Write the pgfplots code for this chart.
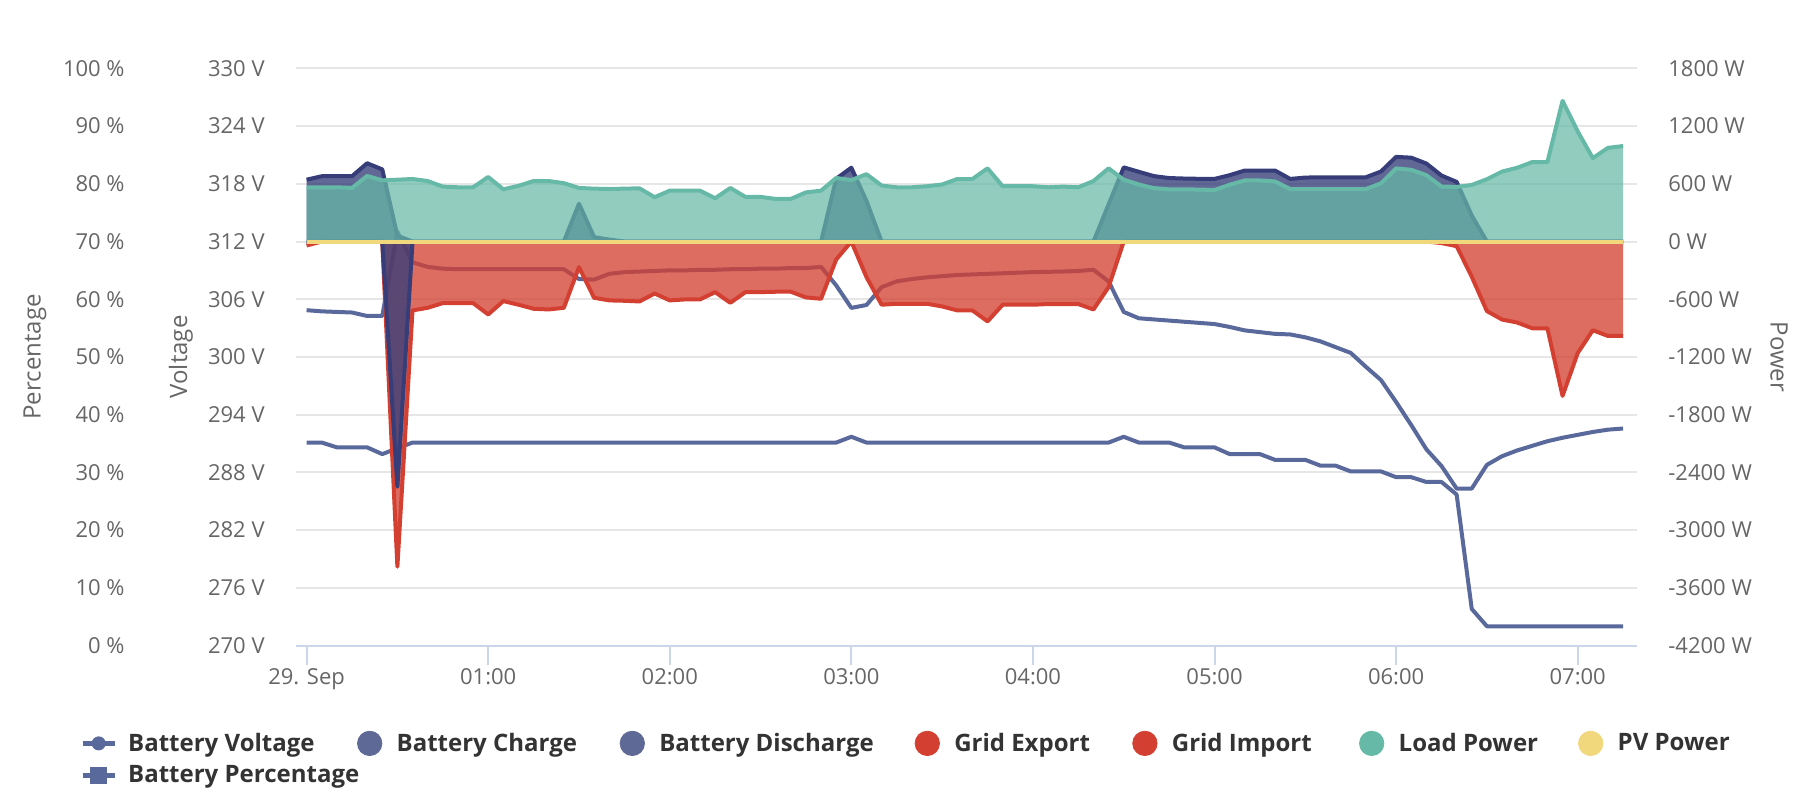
\documentclass[border=0pt]{standalone}
\usepackage{pgfplots}
\pgfplotsset{compat=1.18}
\usepackage{pgfplotstable}
\usepackage{fontspec}
\setmainfont{Open Sans}
\definecolor{lineblue}{HTML}{5A699B}
\definecolor{legblue}{HTML}{5F6996}
\definecolor{darkblue}{HTML}{363D78}
\definecolor{redc}{HTML}{D34032}
\definecolor{tealc}{HTML}{66B9A7}
\definecolor{yellowc}{HTML}{F2D87C}
\definecolor{gridc}{HTML}{E6E6E6}
\definecolor{axisc}{HTML}{CCD6EB}
\definecolor{tickc}{HTML}{666666}
\definecolor{legc}{HTML}{333333}

\pgfplotstableread{
t load dis chg imp pct volt
0 564 643 0 -41 58.1 291.1
5 564 679 0 0 57.9 291.1
10 564 679 0 0 57.8 290.6
15 557 679 0 0 57.7 290.6
20 682 814 0 0 57.1 290.6
25 636 750 0 0 57.1 289.9
30 643 60 -2550 -3380 71.7 290.5
35 650 0 0 -716 66.4 291.1
40 629 0 0 -689 65.6 291.1
45 571 0 0 -640 65.3 291.1
50 564 0 0 -640 65.2 291.1
55 564 0 0 -640 65.2 291.1
60 671 0 0 -758 65.2 291.1
65 543 0 0 -619 65.2 291.1
70 579 0 0 -657 65.2 291.1
75 629 0 0 -699 65.2 291.1
80 629 0 0 -706 65.2 291.1
85 607 0 0 -689 65.2 291.1
90 557 393 0 -266 63.5 291.1
95 550 46 0 -585 63.4 291.1
100 546 20 0 -612 64.4 291.1
105 550 0 0 -616 64.7 291.1
110 553 0 0 -623 64.8 291.1
115 461 0 0 -540 64.9 291.1
120 529 0 0 -612 65.0 291.1
125 529 0 0 -602 65.0 291.1
130 529 0 0 -602 65.1 291.1
135 450 0 0 -526 65.1 291.1
140 557 0 0 -637 65.2 291.1
145 464 0 0 -526 65.2 291.1
150 464 0 0 -526 65.3 291.1
155 443 0 0 -522 65.3 291.1
160 443 0 0 -522 65.4 291.1
165 511 0 0 -581 65.4 291.1
170 529 0 0 -595 65.6 291.1
175 661 653 0 -186 62.4 291.1
180 639 768 0 0 58.5 291.7
185 700 421 0 -370 59.0 291.1
190 582 0 0 -657 62.1 291.1
195 564 0 0 -647 63.1 291.1
200 564 0 0 -647 63.5 291.1
205 575 0 0 -647 63.8 291.1
210 593 0 0 -675 64.0 291.1
215 650 0 0 -716 64.2 291.1
220 650 0 0 -716 64.3 291.1
225 761 0 0 -830 64.4 291.1
230 575 0 0 -657 64.5 291.1
235 575 0 0 -657 64.6 291.1
240 575 0 0 -657 64.7 291.1
245 564 0 0 -650 64.75 291.1
250 571 0 0 -650 64.8 291.1
255 564 0 0 -650 64.9 291.1
260 629 0 0 -706 65.1 291.1
265 761 385 0 -474 63.1 291.1
270 643 771 0 0 57.8 291.7
275 593 725 0 0 56.7 291.1
280 555 680 0 0 56.5 291.1
285 543 660 0 0 56.3 291.1
290 543 655 0 0 56.1 290.6
295 540 652 0 0 55.9 290.6
300 536 651 0 0 55.7 290.6
305 590 690 0 0 55.2 289.9
310 635 738 0 0 54.6 289.9
315 635 738 0 0 54.3 289.9
320 625 738 0 0 54.0 289.3
325 546 651 0 0 53.9 289.3
330 546 665 0 0 53.4 289.3
335 546 668 0 0 52.7 288.7
340 546 668 0 0 51.7 288.7
345 546 668 0 0 50.7 288.1
350 546 668 0 0 48.3 288.1
355 605 728 0 0 46.0 288.1
360 760 880 0 0 42.2 287.5
365 746 872 0 0 38.2 287.5
370 690 811 0 0 34.0 287.0
375 572 686 0 -16 31.1 287.0
380 568 620 0 -48 27.2 285.7
385 588 270 0 -366 27.2 273.8
390 648 0 0 -723 31.3 272.0
395 727 0 0 -811 32.8 272.0
400 767 0 0 -842 33.8 272.0
405 826 0 0 -902 34.6 272.0
410 826 0 0 -902 35.4 272.0
415 1463 0 0 -1605 36.0 272.0
420 1145 0 0 -1160 36.5 272.0
425 867 0 0 -922 37.0 272.0
430 974 0 0 -982 37.4 272.0
435 993 0 0 -982 37.6 272.0
}\data

\pgfplotsset{
  base/.style={
    scale only axis, width=670.5pt, height=288.55pt,
    at={(148pt,82.25pt)}, anchor=south west,
    xmin=-3.5, xmax=439.6,
    tick label style={font=\fontsize{11}{13}\selectfont, text=tickc},
    label style={font=\fontsize{12}{14}\selectfont, text=tickc},
  },
}

\begin{document}
\begin{tikzpicture}
\path[use as bounding box] (0,0) rectangle (908pt,405pt);

% ---------- percentage axis (with grid and x axis)
\begin{axis}[base,
  ymin=0, ymax=100, ytick={0,10,20,30,40,50,60,70,80,90,100},
  yticklabels={0 \%,10 \%,20 \%,30 \%,40 \%,50 \%,60 \%,70 \%,80 \%,90 \%,100 \%},
  axis x line*=bottom, axis y line*=left,
  x axis line style={draw=axisc, line width=1pt, -},
  y axis line style={draw=none},
  xtick={0,60,120,180,240,300,360,420},
  xticklabels={29. Sep,01:00,02:00,03:00,04:00,05:00,06:00,07:00},
  xtick style={draw=axisc, line width=1pt},
  ytick style={draw=none},
  major tick length=9.5pt, tick align=outside,
  ymajorgrids, grid style={draw=gridc, line width=1pt},
  xticklabel style={anchor=north, inner sep=0pt, yshift=-1.8pt},
  yticklabel style={anchor=east, inner sep=0pt, xshift=-76pt},
  ylabel={Percentage},
  ylabel style={at={(axis description cs:-0.19463,0.5)}, anchor=center},
]
\addplot[lineblue, line width=2pt, line join=round] table[x=t,y=pct]{\data};
\end{axis}

% ---------- voltage axis
\begin{axis}[base,
  ymin=270, ymax=330, ytick={270,276,282,288,294,300,306,312,318,324,330},
  yticklabels={270 V,276 V,282 V,288 V,294 V,300 V,306 V,312 V,318 V,324 V,330 V},
  hide x axis, axis y line*=left,
  y axis line style={draw=none}, ytick style={draw=none},
  yticklabel style={anchor=east, inner sep=0pt, xshift=-15.5pt},
  ylabel={Voltage},
  ylabel style={at={(axis description cs:-0.08576,0.5)}, anchor=center},
]
\addplot[lineblue, line width=2pt, line join=round] table[x=t,y=volt]{\data};
\end{axis}

% ---------- power axis
\begin{axis}[base,
  ymin=-4200, ymax=1800,
  ytick={-4200,-3600,-3000,-2400,-1800,-1200,-600,0,600,1200,1800},
  yticklabels={-4200 W,-3600 W,-3000 W,-2400 W,-1800 W,-1200 W,-600 W,0 W,600 W,1200 W,1800 W},
  hide x axis, axis y line*=right,
  y axis line style={draw=none}, ytick style={draw=none},
  yticklabel style={anchor=west, inner sep=0pt, xshift=15.5pt},
  ylabel={Power},
  ylabel style={at={(axis description cs:1.10589,0.5)}, anchor=center, rotate=180},
  legend columns=7,
  legend cell align=left,
  legend style={draw=none, fill=none, inner sep=0pt, outer sep=0pt,
    at={(axis description cs:-0.16092,-0.14174)}, anchor=north west,
    column sep=0pt, row sep=0pt,
    font=\fontsize{12}{14}\selectfont\bfseries, text=legc,
    nodes={inner sep=0pt, outer sep=0pt},
    /tikz/every even column/.style={column sep=0pt},
    /tikz/every odd column/.style={column sep=0pt},
    cells={anchor=west}},
]
% Grid Import (red)
\addplot[draw=none, fill=redc, fill opacity=0.77, forget plot] table[x=t,y=imp]{\data} \closedcycle;
\addplot[redc, line width=2pt, line join=round, forget plot] table[x=t,y=imp]{\data};
% Battery Charge (dark blue, negative)
\addplot[draw=none, fill=darkblue, fill opacity=0.78, forget plot] table[x=t,y=chg]{\data} \closedcycle;
\addplot[darkblue, line width=2pt, line join=round, forget plot] table[x=t,y=chg]{\data};
% Battery Discharge (dark blue)
\addplot[draw=none, fill=darkblue, fill opacity=0.78, forget plot] table[x=t,y=dis]{\data} \closedcycle;
\addplot[darkblue, line width=2pt, line join=round, forget plot] table[x=t,y=dis]{\data};
% Load Power (teal)
\addplot[draw=none, fill=tealc, fill opacity=0.72, forget plot] table[x=t,y=load]{\data} \closedcycle;
\addplot[tealc, line width=2pt, line join=round, forget plot] table[x=t,y=load]{\data};
% PV Power (yellow, zero)
\addplot[yellowc, line width=2pt, forget plot] coordinates {(0,0) (435,0)};

% legend
\addlegendimage{legend image code/.code={\path[draw=none,fill=none] (0pt,-8.05pt) rectangle (16pt,8.05pt);
  \draw[lineblue,line width=2.5pt] (0pt,0pt) -- (16pt,0pt); \fill[lineblue] (8pt,0pt) circle (3.3pt);}}
\addlegendentry{\makebox[118.25pt][l]{\hspace*{5.5pt}Battery Voltage}}
\addlegendimage{legend image code/.code={\path[draw=none,fill=none] (0pt,-8.05pt) rectangle (16pt,8.05pt);
  \fill[legblue] (8pt,0pt) circle (6.1pt);}}
\addlegendentry{\makebox[115.3pt][l]{\hspace*{5.5pt}Battery Charge}}
\addlegendimage{legend image code/.code={\path[draw=none,fill=none] (0pt,-8.05pt) rectangle (16pt,8.05pt);
  \fill[legblue] (8pt,0pt) circle (6.1pt);}}
\addlegendentry{\makebox[131.5pt][l]{\hspace*{5.5pt}Battery Discharge}}
\addlegendimage{legend image code/.code={\path[draw=none,fill=none] (0pt,-8.05pt) rectangle (16pt,8.05pt);
  \fill[redc] (8pt,0pt) circle (6.1pt);}}
\addlegendentry{\makebox[92.8pt][l]{\hspace*{5.5pt}Grid Export}}
\addlegendimage{legend image code/.code={\path[draw=none,fill=none] (0pt,-8.05pt) rectangle (16pt,8.05pt);
  \fill[redc] (8pt,0pt) circle (6.1pt);}}
\addlegendentry{\makebox[97.4pt][l]{\hspace*{5.5pt}Grid Import}}
\addlegendimage{legend image code/.code={\path[draw=none,fill=none] (0pt,-8.05pt) rectangle (16pt,8.05pt);
  \fill[tealc] (8pt,0pt) circle (6.1pt);}}
\addlegendentry{\makebox[93.5pt][l]{\hspace*{5.5pt}Load Power}}
\addlegendimage{legend image code/.code={\path[draw=none,fill=none] (0pt,-8.05pt) rectangle (16pt,8.05pt);
  \fill[yellowc] (8pt,0pt) circle (6.1pt);}}
\addlegendentry{\makebox[62pt][l]{\hspace*{5.5pt}PV Power}}
\addlegendimage{legend image code/.code={\path[draw=none,fill=none] (0pt,-8.05pt) rectangle (16pt,8.05pt);
  \draw[lineblue,line width=2.5pt] (0pt,0pt) -- (16pt,0pt); \fill[lineblue] (4pt,-4pt) rectangle (12pt,4pt);}}
\addlegendentry{\makebox[118.25pt][l]{\hspace*{5.5pt}Battery Percentage}}
\end{axis}
\end{tikzpicture}
\end{document}
